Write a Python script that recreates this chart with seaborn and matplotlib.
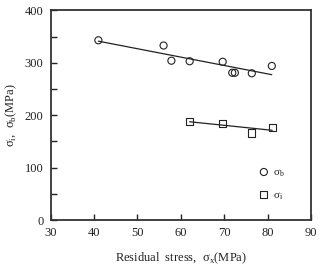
import matplotlib
matplotlib.use("Agg")
import matplotlib.pyplot as plt
import numpy as np
import pandas as pd
import seaborn as sns

# sigma_b (circles) and sigma_i (squares) vs residual stress sigma_x
sx_b = [41.0, 56.0, 57.8, 62.0, 69.6, 71.8, 72.4, 76.3, 80.9]
sig_b = [343, 333, 304, 303, 302, 281, 281, 280, 294]
sx_i = [62.0, 69.6, 76.3, 81.0]
sig_i = [188, 184, 166, 177]

x_ticks = [30, 40, 50, 60, 70, 80, 90]
y_ticks = [0, 100, 200, 300, 400]

df_b = pd.DataFrame({"x": sx_b, "y": sig_b})
df_i = pd.DataFrame({"x": sx_i, "y": sig_i})

sns.set_theme(style="ticks")
plt.rcParams["font.family"] = ["Liberation Serif", "DejaVu Serif"]
plt.rcParams["mathtext.fontset"] = "custom"
plt.rcParams["mathtext.rm"] = "Liberation Serif"

ink = "#222222"
fig = plt.figure(figsize=(3.2, 2.67), dpi=100)
ax = fig.add_axes([0.158, 0.176, 0.815, 0.785])

sns.regplot(data=df_b, x="x", y="y", ci=None, scatter=False, ax=ax,
            line_kws={"color": ink, "lw": 0.9})
sns.regplot(data=df_i, x="x", y="y", ci=None, scatter=False, ax=ax,
            line_kws={"color": ink, "lw": 0.9})
sns.scatterplot(data=df_b, x="x", y="y", marker="o", s=26, facecolors="none",
                edgecolor=ink, linewidth=0.8, ax=ax, label=r"σ$_\mathrm{b}$", zorder=3)
sns.scatterplot(data=df_i, x="x", y="y", marker="s", s=26, facecolors="none",
                edgecolor=ink, linewidth=0.8, ax=ax, label=r"σ$_\mathrm{i}$", zorder=3)

ax.set_xlim(30, 90)
ax.set_ylim(0, 400)
ax.set_xticks(x_ticks)
ax.set_yticks(y_ticks)
ax.set_yticks([50, 150, 250, 350], minor=True)
ax.tick_params(which="both", direction="in", color=ink, labelcolor=ink,
               labelsize=9, width=1.0, pad=5, length=4)
for sp in ax.spines.values():
    sp.set_visible(True)
    sp.set_linewidth(1.3)
    sp.set_color("#333333")

ax.set_xlabel(r"Residual  stress,  σ$_\mathrm{x}$(MPa)", fontsize=9, color=ink, labelpad=8)
ax.set_ylabel(r"σ$_\mathrm{i}$,  σ$_\mathrm{b}$(MPa)", fontsize=9, color=ink, labelpad=4)

ax.legend(loc="lower right", bbox_to_anchor=(0.935, 0.04), frameon=False, fontsize=8,
          handletextpad=0.2, labelspacing=1.0, handlelength=1.2, labelcolor=ink)

fig.savefig("out.png", dpi=100)
